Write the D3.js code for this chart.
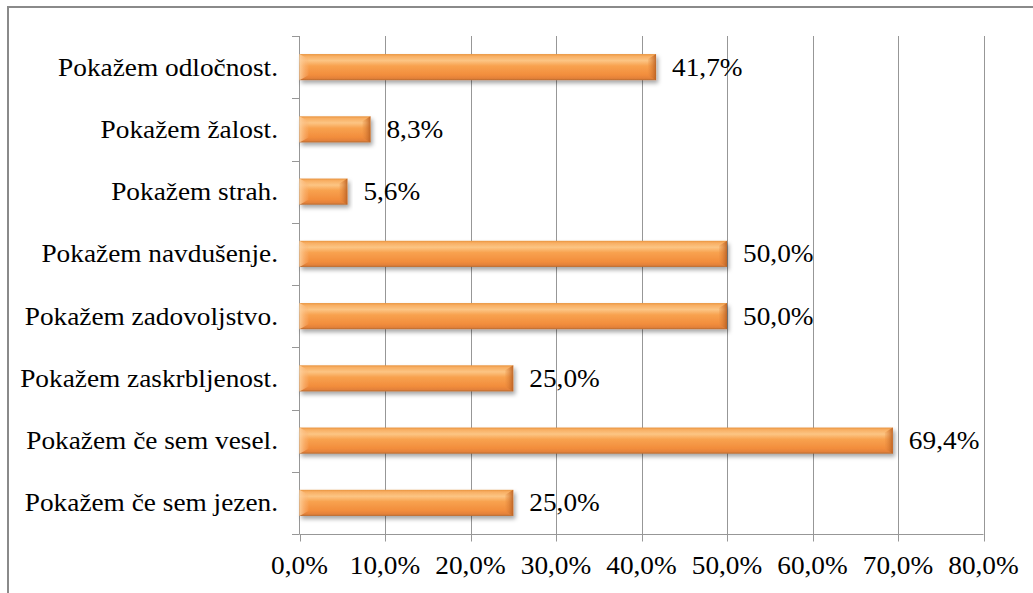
<!DOCTYPE html>
<html>
<head>
<meta charset="utf-8">
<script src="https://cdn.jsdelivr.net/npm/d3@7"></script>
<style>
  html, body { margin: 0; padding: 0; background: #fff; }
  svg { display: block; }
</style>
</head>
<body>
<svg id="chart" width="1033" height="593"></svg>
<script>
// Survey answers (top to bottom) and their shares in percent
const categories = [
  "Pokažem odločnost.",
  "Pokažem žalost.",
  "Pokažem strah.",
  "Pokažem navdušenje.",
  "Pokažem zadovoljstvo.",
  "Pokažem zaskrbljenost.",
  "Pokažem če sem vesel.",
  "Pokažem če sem jezen."
];
const values = [41.7, 8.3, 5.6, 50.0, 50.0, 25.0, 69.4, 25.0];
const xTicks = [0, 10, 20, 30, 40, 50, 60, 70, 80];

const fmt = v => v.toFixed(1).replace(".", ",") + "%";

const svg = d3.select("#chart")
  .attr("font-family", "'Liberation Serif', 'Times New Roman', 'DejaVu Serif', serif");
const W = 1033, H = 593;
const plot = { left: 299.5, right: 983.5, top: 36, bottom: 534 };
const fontSize = 24.5, stretch = 1.115;

// Outer chart frame
svg.append("rect")
  .attr("x", 8).attr("y", 7)
  .attr("width", W + 20).attr("height", H + 20)
  .attr("fill", "none").attr("stroke", "#8a8a8a").attr("stroke-width", 2);

const x = d3.scaleLinear().domain([0, 80]).range([plot.left, plot.right]);
const y = d3.scaleBand().domain(categories).range([plot.top, plot.bottom]).paddingInner(0.58).paddingOuter(0.29);

// Gradients and shadow for the bevelled bars
const defs = svg.append("defs");
const g1 = defs.append("linearGradient").attr("id", "barFill").attr("x1", 0).attr("y1", 0).attr("x2", 0).attr("y2", 1);
[[0, "#e8943f"], [0.08, "#f8ae62"], [0.25, "#fcc584"], [0.45, "#f8a24f"], [0.8, "#f28d3c"], [0.93, "#e3813a"], [1, "#b56a30"]]
  .forEach(([o, c]) => g1.append("stop").attr("offset", o).attr("stop-color", c));
const g2 = defs.append("linearGradient").attr("id", "endDark").attr("x1", 0).attr("y1", 0).attr("x2", 1).attr("y2", 0);
[[0, "#e88a3e", 0.2], [1, "#b85f22", 0.9]]
  .forEach(([o, c, a]) => g2.append("stop").attr("offset", o).attr("stop-color", c).attr("stop-opacity", a));
const g3 = defs.append("linearGradient").attr("id", "endLight").attr("x1", 0).attr("y1", 0).attr("x2", 1).attr("y2", 0);
[[0, "#fdd2a0", 0.9], [1, "#fbb070", 0.2]]
  .forEach(([o, c, a]) => g3.append("stop").attr("offset", o).attr("stop-color", c).attr("stop-opacity", a));
const sh = defs.append("filter").attr("id", "shadow").attr("x", "-5%").attr("y", "-30%").attr("width", "115%").attr("height", "180%");
sh.append("feDropShadow").attr("dx", 2).attr("dy", 3).attr("stdDeviation", 2.2)
  .attr("flood-color", "#000").attr("flood-opacity", 0.35);

// Vertical gridlines
svg.append("g").selectAll("line").data(xTicks.slice(1)).join("line")
  .attr("x1", d => Math.round(x(d)) + 0.5).attr("x2", d => Math.round(x(d)) + 0.5)
  .attr("y1", plot.top).attr("y2", plot.bottom)
  .attr("stroke", "#979797").attr("stroke-width", 1);

// Category axis with outward ticks between bands
const yAxis = svg.append("g");
yAxis.append("line")
  .attr("x1", plot.left).attr("x2", plot.left).attr("y1", plot.top).attr("y2", plot.bottom)
  .attr("stroke", "#979797");
const bandEdges = d3.range(categories.length + 1).map(i => plot.top + i * (plot.bottom - plot.top) / categories.length);
yAxis.selectAll("line.tick").data(bandEdges).join("line").attr("class", "tick")
  .attr("x1", plot.left - 7.5).attr("x2", plot.left)
  .attr("y1", d => Math.round(d) + 0.5).attr("y2", d => Math.round(d) + 0.5)
  .attr("stroke", "#979797");

// Value axis along the bottom
const xAxis = svg.append("g");
xAxis.append("line")
  .attr("x1", plot.left).attr("x2", plot.right).attr("y1", plot.bottom + 0.5).attr("y2", plot.bottom + 0.5)
  .attr("stroke", "#979797");
xAxis.selectAll("line.tick").data(xTicks).join("line").attr("class", "tick")
  .attr("x1", d => Math.round(x(d)) + 0.5).attr("x2", d => Math.round(x(d)) + 0.5)
  .attr("y1", plot.bottom).attr("y2", plot.bottom + 7.5)
  .attr("stroke", "#979797");
xAxis.selectAll("text").data(xTicks).join("text")
  .attr("transform", d => `translate(${x(d)},574) scale(${stretch},1)`)
  .attr("text-anchor", "middle").attr("font-size", fontSize).attr("fill", "#000")
  .text(d => fmt(d));

// Category labels
svg.append("g").selectAll("text").data(categories).join("text")
  .attr("transform", d => `translate(278,${y(d) + y.bandwidth() / 2 + 8.5}) scale(${stretch},1)`)
  .attr("text-anchor", "end").attr("font-size", fontSize).attr("fill", "#000")
  .text(d => d);

// Bars
const bars = svg.append("g").selectAll("g").data(categories).join("g")
  .attr("filter", "url(#shadow)");
bars.append("rect")
  .attr("x", x(0)).attr("y", d => y(d))
  .attr("width", (d, i) => x(values[i]) - x(0)).attr("height", y.bandwidth())
  .attr("fill", "url(#barFill)");
bars.append("polygon")
  .attr("points", (d, i) => {
    const x1 = x(values[i]), y0 = y(d), y1 = y0 + y.bandwidth(), b = 8;
    return [[x1 - b, y0 + 5], [x1, y0], [x1, y1], [x1 - b, y1 - 5]].join(" ");
  })
  .attr("fill", "url(#endDark)");
bars.append("polygon")
  .attr("points", d => {
    const x0 = x(0), y0 = y(d), y1 = y0 + y.bandwidth(), b = 9;
    return [[x0, y0], [x0 + b, y0 + 5], [x0 + b, y1 - 5], [x0, y1]].join(" ");
  })
  .attr("fill", "url(#endLight)");

// Value labels at bar ends
svg.append("g").selectAll("text").data(categories).join("text")
  .attr("transform", (d, i) => `translate(${x(values[i]) + 16},${y(d) + y.bandwidth() / 2 + 8.5}) scale(${stretch},1)`)
  .attr("font-size", fontSize).attr("fill", "#000")
  .text((d, i) => fmt(values[i]));
</script>
</body>
</html>
